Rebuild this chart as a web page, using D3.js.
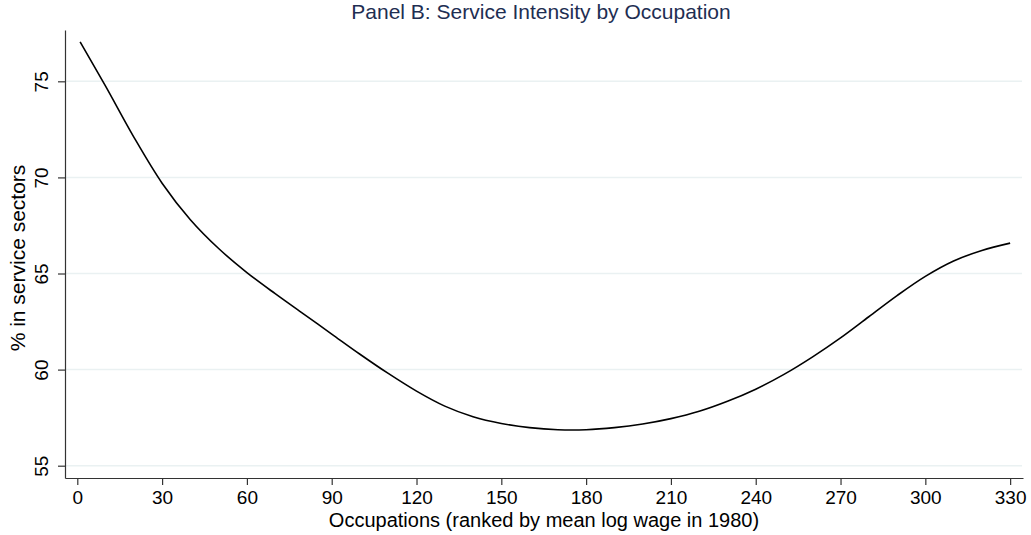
<!DOCTYPE html>
<html>
<head>
<meta charset="utf-8">
<script src="https://cdn.jsdelivr.net/npm/d3@7"></script>
<style>
  body { margin: 0; background: #fff; }
  svg { font-family: Arial, "Liberation Sans", Helvetica, sans-serif; }
  .axis path, .axis line { stroke: #333; stroke-width: 1.2px; }
  .axis text { fill: #000; font-size: 19px; }
</style>
</head>
<body>
<script>
// occupation rank vs share in service sectors (smoothed)
const occRank = [1, 10, 20, 30, 40, 50, 60, 70, 80, 90, 100, 110, 120, 130, 140, 150, 160, 170, 180, 190, 200, 210, 220, 230, 240, 250, 260, 270, 280, 290, 300, 310, 320, 330];
const servicePct = [77.05, 74.75, 72.1, 69.7, 67.8, 66.3, 65.05, 63.95, 62.9, 61.85, 60.8, 59.8, 58.88, 58.1, 57.55, 57.2, 56.98, 56.87, 56.87, 56.98, 57.17, 57.45, 57.83, 58.35, 58.98, 59.75, 60.65, 61.65, 62.75, 63.85, 64.85, 65.65, 66.2, 66.58];
const xTickVals = [0, 30, 60, 90, 120, 150, 180, 210, 240, 270, 300, 330];
const yTickVals = [55, 60, 65, 70, 75];

const titleText = 'Panel B: Service Intensity by Occupation';
const xTitle = 'Occupations (ranked by mean log wage in 1980)';
const yTitle = '% in service sectors';

const width = 1031;
const height = 535;
const plotLeft = 65, plotRight = 1023, plotTop = 30, plotBottom = 478;

const data = occRank.map((x, i) => ({ x: x, y: servicePct[i] }));

const xScale = d3.scaleLinear()
  .domain([-4.35, 334.55])
  .range([plotLeft, plotRight]);

const yScale = d3.scaleLinear()
  .domain([54.36, 77.67])
  .range([plotBottom, plotTop]);

const svg = d3.select('body').append('svg')
  .attr('width', width)
  .attr('height', height);

// gridlines
svg.append('g')
  .selectAll('line')
  .data(yTickVals)
  .enter()
  .append('line')
  .attr('x1', plotLeft)
  .attr('x2', plotRight - 1)
  .attr('y1', d => yScale(d))
  .attr('y2', d => yScale(d))
  .attr('stroke', '#eaf1f2')
  .attr('stroke-width', 1.5);

// x axis
const xAxis = d3.axisBottom(xScale)
  .tickValues(xTickVals)
  .tickSize(7)
  .tickSizeOuter(0)
  .tickPadding(6);

svg.append('g')
  .attr('class', 'axis')
  .attr('transform', `translate(0,${plotBottom})`)
  .call(xAxis);

// y axis, labels turned upright like stata
const yAxis = d3.axisLeft(yScale)
  .tickValues(yTickVals)
  .tickSize(7)
  .tickSizeOuter(0);

const yg = svg.append('g')
  .attr('class', 'axis')
  .attr('transform', `translate(${plotLeft},0)`)
  .call(yAxis);

yg.selectAll('.tick text')
  .attr('transform', 'rotate(-90)')
  .attr('x', 0)
  .attr('y', -17)
  .attr('dy', 0)
  .attr('text-anchor', 'middle');

// line
const line = d3.line()
  .x(d => xScale(d.x))
  .y(d => yScale(d.y))
  .curve(d3.curveCatmullRom.alpha(0.5));

svg.append('path')
  .datum(data)
  .attr('d', line)
  .attr('fill', 'none')
  .attr('stroke', '#000')
  .attr('stroke-width', 1.6);

// titles
svg.append('text')
  .attr('x', 541)
  .attr('y', 19)
  .attr('text-anchor', 'middle')
  .attr('fill', '#1e2e52')
  .attr('font-size', 21)
  .text(titleText);

svg.append('text')
  .attr('x', 544)
  .attr('y', 527)
  .attr('text-anchor', 'middle')
  .attr('font-size', 20)
  .text(xTitle);

svg.append('text')
  .attr('transform', 'translate(25,258) rotate(-90)')
  .attr('text-anchor', 'middle')
  .attr('font-size', 21)
  .text(yTitle);
</script>
</body>
</html>
